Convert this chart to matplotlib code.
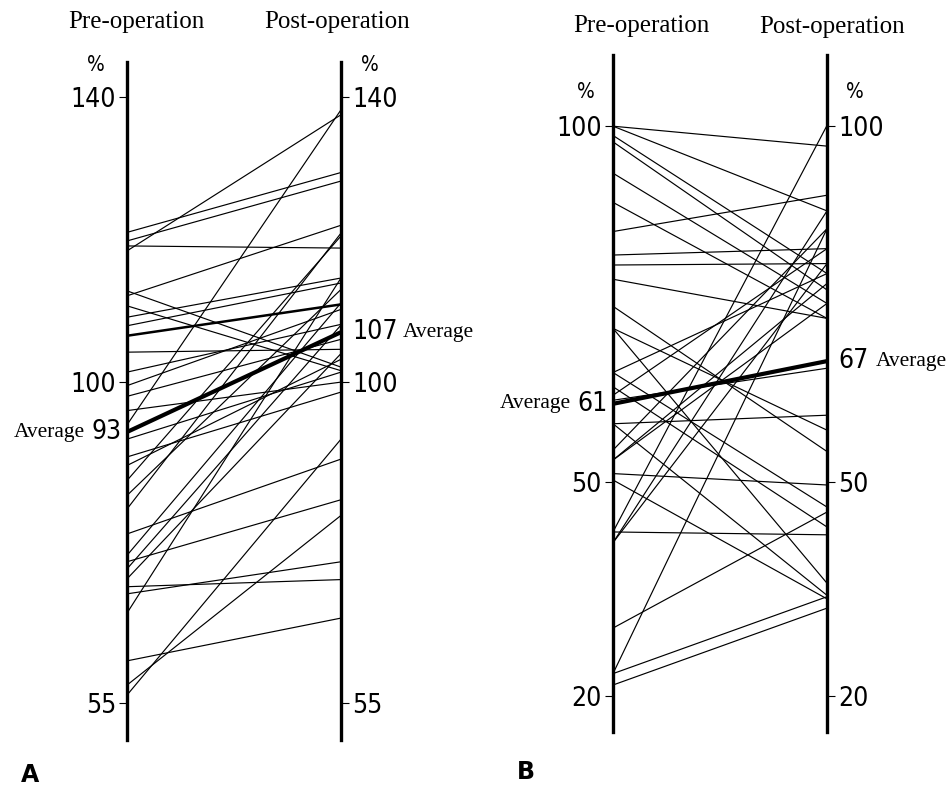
import matplotlib.pyplot as plt
from matplotlib import font_manager

W, H = 950, 789

# panel A: values in %, pre-operation -> post-operation
a_pre = [121.0, 119.8, 118.4, 119.1, 94.0, 112.8, 112.1, 110.7, 109.1, 107.9,
         104.2, 101.4, 99.5, 96.0, 89.5, 88.3, 86.2, 84.1, 82.2, 78.7,
         75.7, 74.8, 73.8, 72.4, 71.3, 70.3, 67.6, 60.9, 57.5, 56.1,
         92.0, 98.0]
a_post = [129.4, 128.2, 137.5, 118.8, 138.2, 102.1, 122.0, 101.6, 114.6, 113.9,
          104.6, 108.1, 110.2, 100.0, 98.6, 103.2, 120.5, 113.0, 120.9, 89.2,
          111.1, 83.5, 108.0, 104.0, 72.3, 74.8, 114.6, 66.9, 81.3, 92.0,
          101.4, 106.0]
a_heavy = (106.5, 110.9)
a_avg = (93, 107)
a_ticks = [55, 100, 140]

# panel B
b_pre = [100.0, 100.0, 98.7, 97.8, 93.4, 89.3, 85.2, 81.9, 80.5, 78.5,
         74.7, 71.6, 65.4, 63.4, 61.5, 58.2, 58.2, 54.5, 53.1, 51.2,
         50.3, 43.0, 41.5, 43.0, 29.5, 23.1, 21.5, 23.1, 41.5, 62.2,
         65.4, 71.6, 53.1]
b_post = [97.2, 88.1, 79.3, 77.0, 75.1, 73.0, 90.3, 82.8, 80.7, 73.0,
          54.3, 57.3, 46.5, 43.7, 66.0, 59.4, 34.1, 85.6, 77.9, 49.6,
          33.6, 42.6, 80.7, 100.1, 45.8, 33.9, 32.3, 85.6, 88.1, 82.8,
          79.3, 35.8, 75.1]
b_avg = (61, 67)
b_ticks = [20, 50, 100]

SERIF = ["Liberation Serif", "DejaVu Serif"]
# narrow digits like the original lettering, if a condensed face exists
NUM = font_manager.FontProperties(family="DejaVu Sans", stretch="condensed", size=19)
NUM_FILE = font_manager.findfont(NUM)
HAS_NARROW = "ondensed" in NUM_FILE or "arrow" in NUM_FILE
NUM_SIZE = 19 if HAS_NARROW else 16


def numfont(size=None):
    return font_manager.FontProperties(fname=NUM_FILE, size=size or NUM_SIZE)


def px(x, y):
    return x / W, 1 - y / H


def panel(fig, rect, ylim, pre, post, avg, ticks, heavy=None):
    ax = fig.add_axes(rect)
    ax.set_xlim(0, 1)
    ax.set_ylim(*ylim)
    ax.patch.set_visible(False)
    for s in ("top", "bottom"):
        ax.spines[s].set_visible(False)
    for s in ("left", "right"):
        ax.spines[s].set_linewidth(2.4)
    for p, q in zip(pre, post):
        ax.plot([0, 1], [p, q], color="black", lw=0.85, solid_capstyle="butt")
    if heavy is not None:
        ax.plot([0, 1], heavy, color="black", lw=1.8)
    ax.plot([0, 1], avg, color="black", lw=3.0)
    ax.set_xticks([])
    ax.set_yticks(ticks)
    ax.set_yticklabels([str(t) for t in ticks])
    ax.tick_params(axis="y", left=True, right=True, labelleft=True, labelright=True,
                   length=6, width=0.8, pad=2)
    for lab in ax.get_yticklabels():
        lab.set_fontproperties(numfont())
    return ax


fig = plt.figure(figsize=(W / 100, H / 100), dpi=100)

# axes frames are placed from the pixel positions of the vertical lines
axA = panel(fig, [127 / W, 1 - 740 / H, 214 / W, 678 / H], (49.8, 144.9),
            a_pre, a_post, a_avg, a_ticks, heavy=a_heavy)
axB = panel(fig, [613 / W, 1 - 732 / H, 214 / W, 677 / H], (14.9, 110.0),
            b_pre, b_post, b_avg, b_ticks)

# column headers
for x, y, s in [(136, 22, "Pre-operation"), (337, 22, "Post-operation"),
                (641, 26, "Pre-operation"), (832, 27, "Post-operation")]:
    fig.text(*px(x, y), s, family=SERIF, fontsize=18, ha="center", va="center")

# percent signs
for x, y in [(96, 65), (370, 65), (586, 92), (855, 92)]:
    fig.text(*px(x, y), "%", fontproperties=numfont(15), style="italic",
             ha="center", va="center")


def label(ax, x, y, dx, s, serif, ha):
    kw = dict(family=SERIF, fontsize=15.5) if serif else dict(fontproperties=numfont())
    ax.annotate(s, xy=(x, y), xytext=(dx, 0), textcoords="offset pixels",
                ha=ha, va="center", **kw)


# average labels
label(axA, 0, a_avg[0], -42, "Average", True, "right")
label(axA, 0, a_avg[0], -5, str(a_avg[0]), False, "right")
label(axA, 1, a_avg[1], 11, str(a_avg[1]), False, "left")
label(axA, 1, a_avg[1], 62, "Average", True, "left")

label(axB, 0, b_avg[0], -42, "Average", True, "right")
label(axB, 0, b_avg[0], -5, str(b_avg[0]), False, "right")
label(axB, 1, b_avg[1], 11, str(b_avg[1]), False, "left")
label(axB, 1, b_avg[1], 49, "Average", True, "left")

# panel letters
fig.text(*px(21, 775), "A", family="DejaVu Sans", fontweight="bold", fontsize=17,
         ha="left", va="center")
fig.text(*px(517, 772), "B", family="DejaVu Sans", fontweight="bold", fontsize=17,
         ha="left", va="center")

fig.savefig("out.png", dpi=100)
